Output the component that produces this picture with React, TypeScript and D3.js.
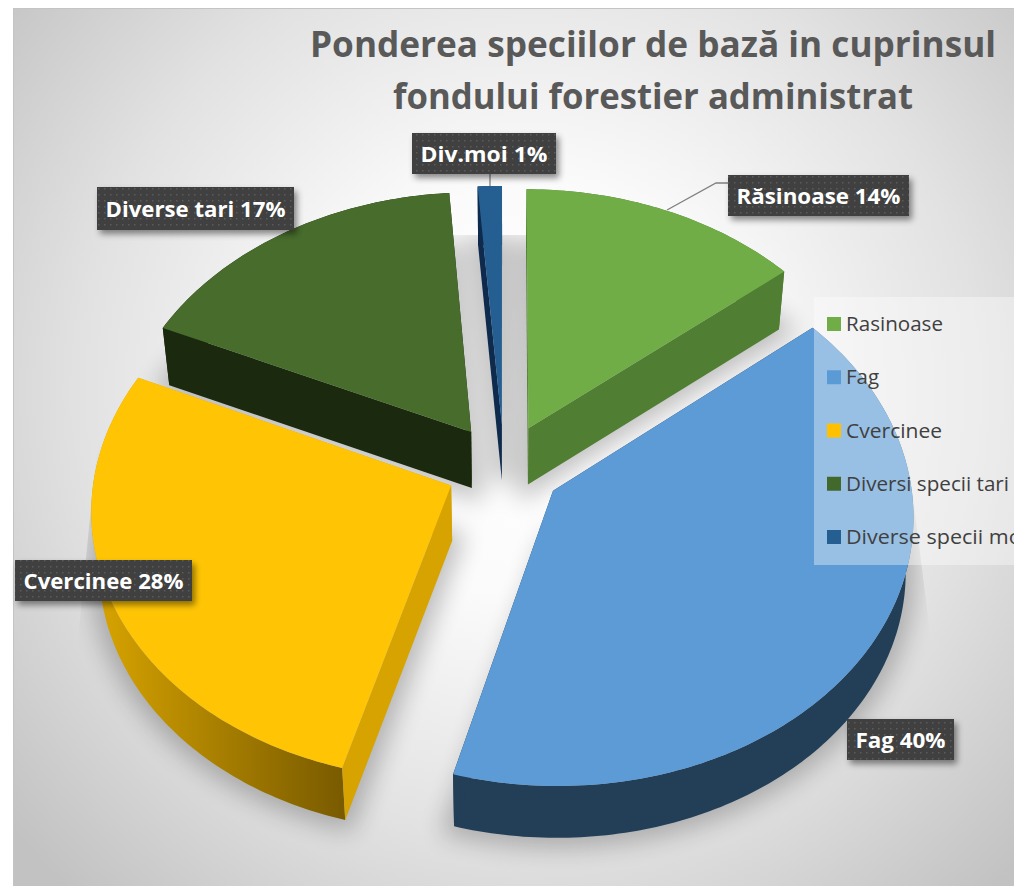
import React from "react";
import * as d3 from "d3";

const W = 1014, H = 886;
const categories = ["Rasinoase", "Fag", "Cvercinee", "Diversi specii tari", "Diverse specii moi"];
const shares = [14, 40.3, 27.5, 17, 1.2];
const topColors = ["#70ad47", "#5c9bd6", "#ffc505", "#476c2c", "#255e91"];
const edgeColors = ["#507e32", "#233f57", "#d6a300", "#1b2a0e", "#0e2a4d"];
const legendColors = ["#70ad47", "#5b9bd5", "#ffc000", "#43682b", "#255e91"];
const dataLabels = ["Răsinoase 14%", "Fag 40%", "Cvercinee 28%", "Diverse tari 17%", "Div.moi 1%"];
const labelBoxes = [
  [728, 175, 181, 41],
  [847, 719, 107, 41],
  [15, 560, 177, 41],
  [97, 187, 197, 43],
  [412, 133, 144, 41],
];
const titleLines = ["Ponderea speciilor de bază in cuprinsul", "fondului forestier administrat"];
const legendWidths = [97, 33, 96, 163, 181];

// projection of the tilted pie
const CX = 504, CY = 467, RADIUS = 356, EXPLODE = 58, TILT = 0.7465, PERSP = 0.00024;
const project = (X: number, Y: number): [number, number] => {
  const s = 1 / (1 - PERSP * Y);
  return [CX + X * s, CY + TILT * Y * s];
};
const drop = ([x, y]: [number, number]): [number, number] => [CX + (x - CX) * 0.981, y * 0.988 + 61.3];

const pieGen = d3.pie<number>().sort(null).value((d) => d);
const slices = pieGen(shares).map((a, i) => {
  const mid = (a.startAngle + a.endAngle) / 2;
  const ox = EXPLODE * Math.sin(mid), oy = -EXPLODE * Math.cos(mid);
  const apex = project(ox, oy);
  const n = Math.max(4, Math.ceil((a.endAngle - a.startAngle) * 60));
  const rim = d3.range(n + 1).map((k) => {
    const t = a.startAngle + ((a.endAngle - a.startAngle) * k) / n;
    return project(ox + RADIUS * Math.sin(t), oy - RADIUS * Math.cos(t));
  });
  return { i, apex, rim };
});
const line = d3.line<[number, number]>().curve(d3.curveLinearClosed);

const drawOrder = [4, 0, 3, 2, 1];
const legendY = d3.scalePoint<string>().domain(categories).range([324, 537]);

export default function App() {
  return (
    <svg width={W} height={H} style={{ position: "absolute", left: 0, top: 0, display: "block", overflow: "hidden", fontVariantLigatures: "none" }}>
      <defs>
        <radialGradient id="bg" gradientUnits="userSpaceOnUse" cx={530} cy={390} r={680}>
          <stop offset="0" stopColor="#ffffff" />
          <stop offset="0.3" stopColor="#fbfbfb" />
          <stop offset="0.66" stopColor="#e2e2e2" />
          <stop offset="1" stopColor="#c2c2c2" />
        </radialGradient>
        <linearGradient id="yellowWall" gradientUnits="userSpaceOnUse" x1={110} x2={349} y1={0} y2={0}>
          <stop offset="0" stopColor="#d3a000" />
          <stop offset="0.45" stopColor="#a87f00" />
          <stop offset="1" stopColor="#775900" />
        </linearGradient>
        <pattern id="dots" width={6} height={6} patternUnits="userSpaceOnUse">
          <rect width={6} height={6} fill="#3f3f3f" />
          <rect x={2} y={2} width={1.5} height={1.5} fill="#5c5c5c" />
        </pattern>
        <filter id="blur" x="-10%" y="-10%" width="120%" height="120%">
          <feGaussianBlur stdDeviation={12} />
        </filter>
        <filter id="labelShadow" x="-20%" y="-30%" width="140%" height="170%">
          <feDropShadow dx={3} dy={4} stdDeviation={3} floodColor="#000" floodOpacity={0.45} />
        </filter>
        <clipPath id="shadowClip">
          <polygon points="118,235 880,235 960,870 55,870" />
        </clipPath>
      </defs>

      <rect x={13.5} y={8.5} width={W} height={H} fill="url(#bg)" stroke="#c4c4c4" strokeWidth={1} />

      <g clipPath="url(#shadowClip)">
        <g filter="url(#blur)" opacity={0.24}>
          {slices.map((s) => {
            const poly = [drop(s.apex), ...s.rim.map(drop)] as [number, number][];
            return <path key={s.i} d={line(poly) ?? ""} fill="#000" stroke="#000" strokeWidth={20} />;
          })}
        </g>
      </g>

      {drawOrder.map((idx) => {
        const s = slices[idx];
        const first = s.rim[0], last = s.rim[s.rim.length - 1];
        const outer = [...s.rim, ...[...s.rim].reverse().map(drop)] as [number, number][];
        const startWall = [s.apex, first, drop(first), drop(s.apex)] as [number, number][];
        const endWall = [s.apex, last, drop(last), drop(s.apex)] as [number, number][];
        const outerFill = idx === 2 ? "url(#yellowWall)" : edgeColors[idx];
        return (
          <g key={idx}>
            <path d={line(outer) ?? ""} fill={outerFill} />
            <path d={line(startWall) ?? ""} fill={edgeColors[idx]} />
            <path d={line(endWall) ?? ""} fill={edgeColors[idx]} />
            <path d={line([s.apex, ...s.rim]) ?? ""} fill={topColors[idx]} />
          </g>
        );
      })}

      <rect x={814} y={297} width={W - 814} height={268} fill="#ffffff" opacity={0.37} />
      {categories.map((c, i) => (
        <g key={c}>
          <rect x={827} y={(legendY(c) ?? 0) - 7} width={14} height={14} fill={legendColors[i]} />
          <text
            x={846}
            y={(legendY(c) ?? 0) + 7}
            fontFamily="Open Sans"
            fontSize={20.5}
            fill="#404040"
            textLength={legendWidths[i]}
            lengthAdjust="spacingAndGlyphs"
          >
            {c}
          </text>
        </g>
      ))}

      {titleLines.map((t, i) => (
        <text
          key={t}
          x={653}
          y={57 + i * 52}
          textAnchor="middle"
          fontFamily="Open Sans"
          fontWeight={700}
          fontSize={36}
          fill="#595959"
          textLength={i === 0 ? 686 : 520}
          lengthAdjust="spacingAndGlyphs"
        >
          {t}
        </text>
      ))}

      <path d="M667,210 L716,183 L728,183" fill="none" stroke="#808080" strokeWidth={1.3} />
      <path d="M490,174 L490,186" fill="none" stroke="#808080" strokeWidth={1.3} />

      {dataLabels.map((t, i) => {
        const [x, y, w, h] = labelBoxes[i];
        return (
          <g key={t}>
            <rect x={x} y={y} width={w} height={h} fill="url(#dots)" filter="url(#labelShadow)" />
            <text
              x={x + w / 2}
              y={y + h / 2 + 8}
              textAnchor="middle"
              fontFamily="Open Sans"
              fontWeight={700}
              fontSize={22}
              fill="#ffffff"
              textLength={w - 17}
              lengthAdjust="spacingAndGlyphs"
            >
              {t}
            </text>
          </g>
        );
      })}
    </svg>
  );
}
